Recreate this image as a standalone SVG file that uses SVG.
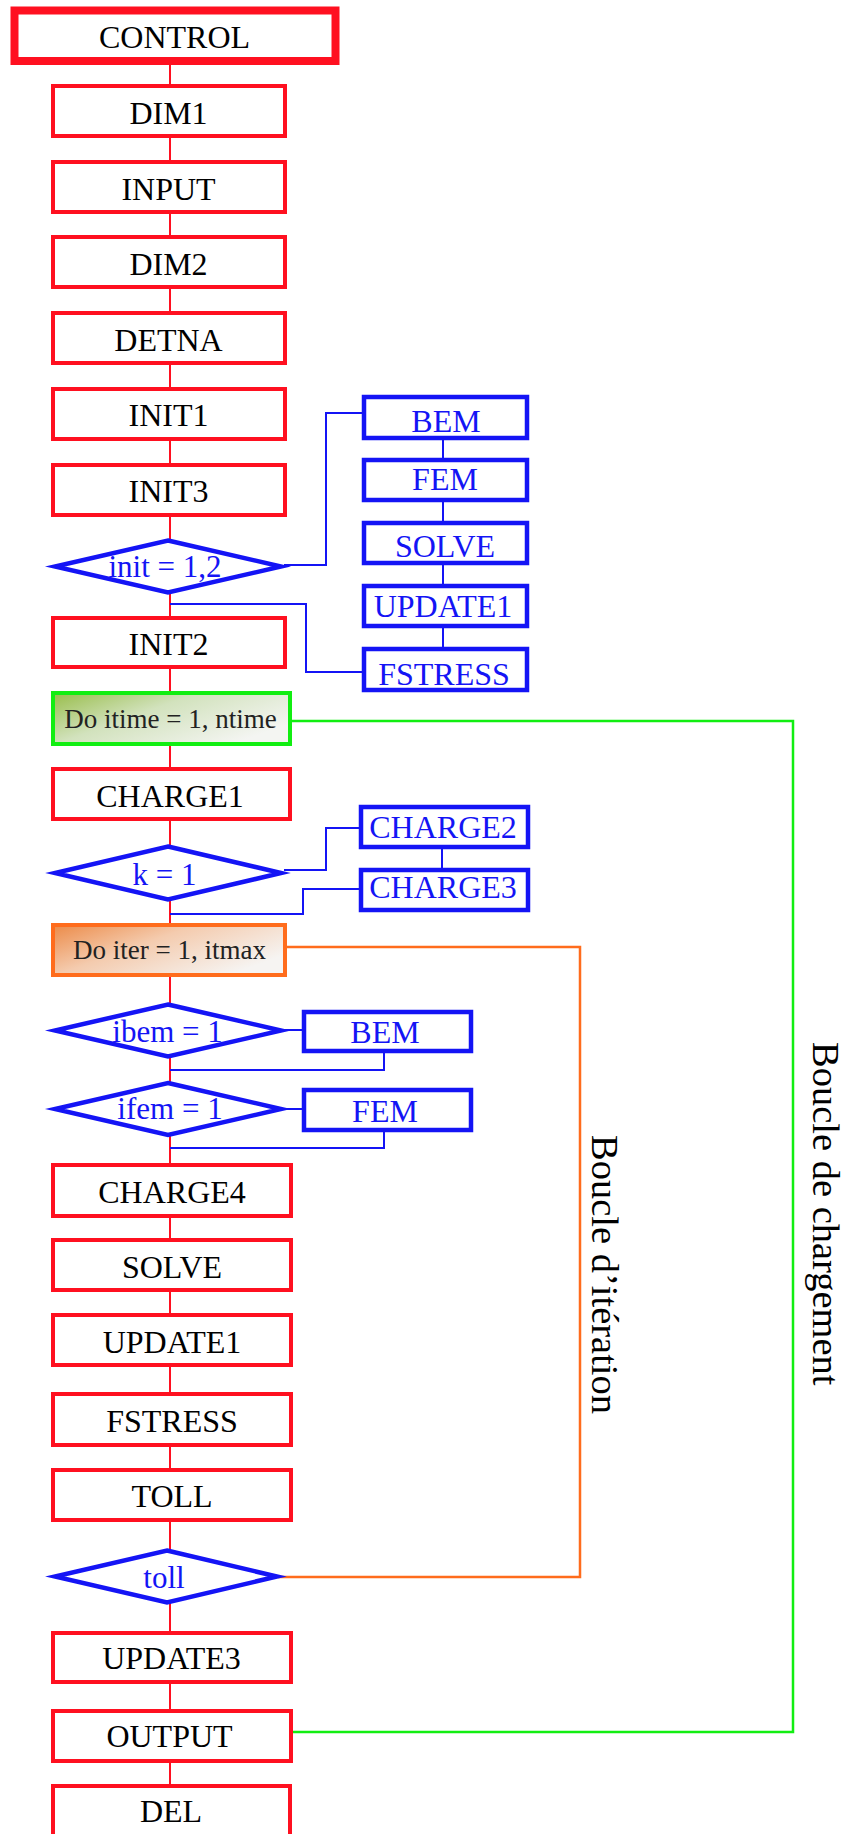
<svg xmlns="http://www.w3.org/2000/svg" width="844" height="1834" viewBox="0 0 844 1834">
<defs>
<linearGradient id="gGreen" x1="0" y1="0" x2="1" y2="0.6">
<stop offset="0" stop-color="#98bd4a"/>
<stop offset="0.45" stop-color="#d2e2bd"/>
<stop offset="1" stop-color="#f4f5f2"/>
</linearGradient>
<linearGradient id="gOrange" x1="0" y1="0" x2="1" y2="0.6">
<stop offset="0" stop-color="#ec8a47"/>
<stop offset="0.45" stop-color="#f4cbae"/>
<stop offset="1" stop-color="#f6f4f2"/>
</linearGradient>
<style>
.red{fill:#ffffff;stroke:#ff1020;stroke-width:4}
.ctl{fill:#ffffff;stroke:#ff1020;stroke-width:8}
.blue{fill:#ffffff;stroke:#1414f5;stroke-width:4.5}
.dia{fill:#ffffff;stroke:#1414f5;stroke-width:4.5;stroke-linejoin:miter;stroke-miterlimit:10}
.dgreen{fill:url(#gGreen);stroke:#11ee11;stroke-width:4}
.dorange{fill:url(#gOrange);stroke:#ff6c1c;stroke-width:4}
.t{font-family:"Liberation Serif","Times New Roman",serif;font-size:32px;fill:#000000;text-anchor:middle}
.tb{font-family:"Liberation Serif","Times New Roman",serif;font-size:32px;fill:#1414f5;text-anchor:middle}
.td{font-family:"Liberation Serif","Times New Roman",serif;font-size:31px;fill:#1414f5;text-anchor:middle}
.tdo{font-family:"Liberation Serif","Times New Roman",serif;font-size:27px;fill:#222222;text-anchor:middle}
.tv{font-family:"Liberation Serif","Times New Roman",serif;font-size:38.5px;fill:#000000}
.cr{fill:none;stroke:#ff1020;stroke-width:2}
.cb{fill:none;stroke:#1414f5;stroke-width:2}
.cg{fill:none;stroke:#11ee11;stroke-width:2.5}
.co{fill:none;stroke:#ff6c1c;stroke-width:2.5}
</style>
</defs>
<rect x="0" y="0" width="844" height="1834" fill="#ffffff"/>

<g id="connectors">
<path class="cr" d="M170 65 V1786"/>
<path class="cb" d="M284 565 H326 V413 H362"/>
<path class="cb" d="M170 604 H306 V672 H362"/>
<path class="cb" d="M443 438 V460 M443 500 V523 M443 563 V586 M443 626 V649"/>
<path class="cb" d="M284 870 H326 V828 H359"/>
<path class="cb" d="M170 914 H303 V889 H359"/>
<path class="cb" d="M442 847 V870"/>
<path class="cb" d="M284 1030 H304"/>
<path class="cb" d="M384 1051 V1070 H170"/>
<path class="cb" d="M284 1109 H304"/>
<path class="cb" d="M384 1130 V1148 H170"/>
<path class="cg" d="M290 721 H793 V1732 H291"/>
<path class="co" d="M285 947 H580 V1577 H278"/>
</g>

<g id="control"><rect class="ctl" x="14.5" y="10.5" width="321" height="50.5"/><text class="t" x="174.5" y="48">CONTROL</text></g>
<g id="dim1"><rect class="red" x="53" y="86" width="232" height="50"/><text class="t" x="168.5" y="124">DIM1</text></g>
<g id="input"><rect class="red" x="53" y="162" width="232" height="50"/><text class="t" x="168.5" y="200">INPUT</text></g>
<g id="dim2"><rect class="red" x="53" y="237" width="232" height="50"/><text class="t" x="168.5" y="275">DIM2</text></g>
<g id="detna"><rect class="red" x="53" y="313" width="232" height="50"/><text class="t" x="168.5" y="351">DETNA</text></g>
<g id="init1"><rect class="red" x="53" y="389" width="232" height="50"/><text class="t" x="168.5" y="426">INIT1</text></g>
<g id="init3"><rect class="red" x="53" y="465" width="232" height="50"/><text class="t" x="168.5" y="502">INIT3</text></g>
<g id="dec-init"><polygon class="dia" points="168,540.5 281,566.5 168,592.5 55,566.5"/><text class="td" x="165" y="577">init = 1,2</text></g>
<g id="init2"><rect class="red" x="53" y="618" width="232" height="49"/><text class="t" x="168.5" y="655">INIT2</text></g>

<g id="sub-bem"><rect class="blue" x="364" y="397" width="163" height="41"/><text class="tb" x="446" y="432">BEM</text></g>
<g id="sub-fem"><rect class="blue" x="364" y="460" width="163" height="40"/><text class="tb" x="445" y="490">FEM</text></g>
<g id="sub-solve"><rect class="blue" x="364" y="523" width="163" height="40"/><text class="tb" x="445" y="557">SOLVE</text></g>
<g id="sub-update1"><rect class="blue" x="364" y="586" width="163" height="40"/><text class="tb" x="443" y="617">UPDATE1</text></g>
<g id="sub-fstress"><rect class="blue" x="364" y="649" width="163" height="41"/><text class="tb" x="444" y="685">FSTRESS</text></g>

<g id="do-itime"><rect class="dgreen" x="53" y="693" width="237" height="51"/><text class="tdo" x="170.5" y="728">Do itime = 1, ntime</text></g>
<g id="charge1"><rect class="red" x="53" y="769" width="237" height="50"/><text class="t" x="170" y="807" fill="#222222">CHARGE1</text></g>
<g id="dec-k"><polygon class="dia" points="168,846.5 281,873 168,899.5 55,873"/><text class="td" x="164.5" y="885">k = 1</text></g>
<g id="charge2"><rect class="blue" x="361" y="807" width="167" height="40"/><text class="tb" x="443" y="838">CHARGE2</text></g>
<g id="charge3"><rect class="blue" x="361" y="870" width="167" height="40"/><text class="tb" x="443" y="898">CHARGE3</text></g>

<g id="do-iter"><rect class="dorange" x="53" y="925" width="232" height="50"/><text class="tdo" x="169.5" y="959">Do iter = 1, itmax</text></g>
<g id="dec-ibem"><polygon class="dia" points="168,1004.5 281,1030.5 168,1056.5 55,1030.5"/><text class="td" x="167.5" y="1042">ibem = 1</text></g>
<g id="bem"><rect class="blue" x="304" y="1012" width="167" height="39"/><text class="tb" x="385" y="1043">BEM</text></g>
<g id="dec-ifem"><polygon class="dia" points="168,1083 281,1109 168,1135 55,1109"/><text class="td" x="170" y="1119">ifem = 1</text></g>
<g id="fem"><rect class="blue" x="304" y="1090" width="167" height="40"/><text class="tb" x="385" y="1122">FEM</text></g>

<g id="charge4"><rect class="red" x="53" y="1165" width="238" height="51"/><text class="t" x="172" y="1203">CHARGE4</text></g>
<g id="solve"><rect class="red" x="53" y="1240" width="238" height="50"/><text class="t" x="172" y="1278">SOLVE</text></g>
<g id="update1"><rect class="red" x="53" y="1315" width="238" height="50"/><text class="t" x="172" y="1353">UPDATE1</text></g>
<g id="fstress"><rect class="red" x="53" y="1394" width="238" height="51"/><text class="t" x="172" y="1432">FSTRESS</text></g>
<g id="toll"><rect class="red" x="53" y="1470" width="238" height="50"/><text class="t" x="172" y="1507">TOLL</text></g>
<g id="dec-toll"><polygon class="dia" points="167,1550.5 277,1576.5 167,1602.5 55,1576.5"/><text class="td" x="164" y="1588">toll</text></g>
<g id="update3"><rect class="red" x="53" y="1633" width="238" height="49"/><text class="t" x="171.5" y="1669">UPDATE3</text></g>
<g id="output"><rect class="red" x="53" y="1711" width="238" height="50"/><text class="t" x="169.5" y="1747">OUTPUT</text></g>
<g id="del"><rect class="red" x="53" y="1786" width="237" height="50"/><text class="t" x="171" y="1822">DEL</text></g>

<g id="label-iteration"><text class="tv" transform="translate(592,1135) rotate(90)">Boucle d’itération</text></g>
<g id="label-chargement"><text class="tv" transform="translate(813,1042) rotate(90)">Boucle de chargement</text></g>
</svg>
